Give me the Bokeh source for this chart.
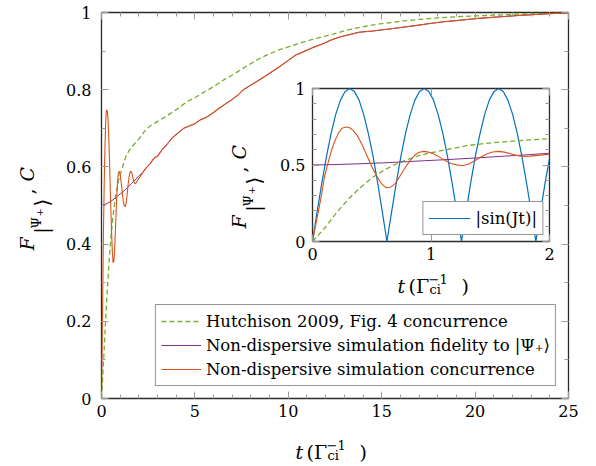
import math
from bokeh.plotting import figure
from bokeh.models import Range1d, LinearAxis, FixedTicker, Label, Legend, LegendItem
from bokeh.embed import file_html
from bokeh.resources import INLINE

FONT = "DejaVu Serif"

# ---------------- data ----------------
hutch_t = [0.00, 0.10, 0.20, 0.30, 0.40, 0.50, 0.60, 0.70, 0.80, 0.90, 1.00, 1.15, 1.30, 1.45, 1.60,
           1.80, 2.00, 2.30, 2.60, 3.00, 3.40, 3.80, 4.20, 4.60, 5.00, 5.50, 6.00, 6.50, 7.00, 7.50,
           8.00, 8.50, 9.00, 9.50, 10.00, 10.70, 11.50, 12.40, 13.20, 14.20, 15.00, 16.00, 17.00,
           18.00, 19.00, 20.00, 21.00, 22.00, 23.00, 24.00, 25.00]
hutch_c = [0.000, 0.085, 0.185, 0.275, 0.350, 0.415, 0.465, 0.505, 0.535, 0.562, 0.580, 0.603, 0.626,
           0.640, 0.651, 0.662, 0.672, 0.692, 0.706, 0.718, 0.729, 0.742, 0.755, 0.770, 0.779, 0.794,
           0.808, 0.824, 0.838, 0.853, 0.868, 0.882, 0.893, 0.903, 0.911, 0.922, 0.933, 0.944, 0.955,
           0.965, 0.971, 0.977, 0.982, 0.986, 0.989, 0.991, 0.993, 0.995, 0.997, 0.998, 0.999]

conc_t = [0.00, 0.03, 0.05, 0.08, 0.10, 0.13, 0.16, 0.19, 0.22, 0.25, 0.28, 0.31, 0.34, 0.38, 0.42,
          0.46, 0.50, 0.54, 0.58, 0.62, 0.66, 0.70, 0.74, 0.78, 0.82, 0.86, 0.90, 0.94, 0.98, 1.02,
          1.07, 1.12, 1.17, 1.22, 1.27, 1.32, 1.37, 1.42, 1.47, 1.52, 1.57, 1.62, 1.67, 1.72, 1.78,
          1.84, 1.90, 1.96, 2.02, 2.20, 2.40, 2.60, 2.80, 3.00, 3.25, 3.50, 3.80, 4.10, 4.40, 4.70,
          5.00, 5.30, 5.60, 6.00, 6.30, 6.60, 7.00, 7.30, 7.60, 8.00, 8.40, 8.80, 9.20, 9.60, 10.00,
          10.40, 10.80, 11.30, 11.80, 12.30, 12.80, 13.30, 13.80, 14.50, 15.20, 16.00, 16.80, 17.50,
          18.30, 19.00, 19.80, 20.50, 21.40, 22.20, 23.00, 24.00, 25.00]
conc_v = [0.000, 0.120, 0.200, 0.320, 0.420, 0.510, 0.595, 0.660, 0.710, 0.740, 0.748, 0.745, 0.728,
          0.690, 0.630, 0.560, 0.490, 0.430, 0.380, 0.352, 0.355, 0.380, 0.430, 0.480, 0.525, 0.562,
          0.583, 0.589, 0.584, 0.573, 0.553, 0.530, 0.510, 0.499, 0.497, 0.507, 0.528, 0.552, 0.572,
          0.585, 0.589, 0.584, 0.574, 0.563, 0.556, 0.558, 0.563, 0.568, 0.571, 0.585, 0.598, 0.608,
          0.622, 0.628, 0.645, 0.658, 0.676, 0.688, 0.700, 0.706, 0.712, 0.722, 0.728, 0.741, 0.752,
          0.762, 0.775, 0.786, 0.800, 0.812, 0.824, 0.836, 0.849, 0.862, 0.876, 0.890, 0.898, 0.909,
          0.918, 0.929, 0.937, 0.943, 0.949, 0.952, 0.956, 0.961, 0.966, 0.971, 0.976, 0.979, 0.983,
          0.986, 0.989, 0.992, 0.994, 0.997, 0.999]

fid_t = [0.00, 0.20, 0.40, 0.60, 0.80, 1.00, 1.20, 1.40, 1.60, 1.80, 2.00, 2.20, 2.40, 2.60, 2.80,
         3.00, 3.25, 3.50, 3.80, 4.10, 4.40, 4.70, 5.00, 5.30, 5.60, 6.00, 6.30, 6.60, 7.00, 7.30,
         7.60, 8.00, 8.40, 8.80, 9.20, 9.60, 10.00, 10.40, 10.80, 11.30, 11.80, 12.30, 12.80, 13.30,
         13.80, 14.50, 15.20, 16.00, 16.80, 17.50, 18.30, 19.00, 19.80, 20.50, 21.40, 22.20, 23.00,
         24.00, 25.00]
fid_v = [0.500, 0.503, 0.508, 0.514, 0.522, 0.530, 0.538, 0.547, 0.557, 0.566, 0.577, 0.585, 0.598,
         0.608, 0.622, 0.628, 0.645, 0.658, 0.676, 0.688, 0.700, 0.706, 0.712, 0.722, 0.728, 0.741,
         0.752, 0.762, 0.775, 0.786, 0.800, 0.812, 0.824, 0.836, 0.849, 0.862, 0.876, 0.890, 0.898,
         0.909, 0.918, 0.929, 0.937, 0.943, 0.949, 0.952, 0.956, 0.961, 0.966, 0.971, 0.976, 0.979,
         0.983, 0.986, 0.989, 0.992, 0.994, 0.997, 0.999]

sin_t = [0.000, 0.039, 0.079, 0.118, 0.157, 0.196, 0.236, 0.275, 0.314, 0.353, 0.393, 0.432, 0.471,
         0.511, 0.550, 0.589, 0.628, 0.668, 0.707, 0.746, 0.785, 0.825, 0.864, 0.903, 0.942, 0.982,
         1.021, 1.060, 1.100, 1.139, 1.178, 1.217, 1.257, 1.296, 1.335, 1.374, 1.414, 1.453, 1.492,
         1.532, 1.571, 1.610, 1.649, 1.689, 1.728, 1.767, 1.806, 1.846, 1.885, 1.924, 1.963, 2.003]
sin_v = [0.000, 0.195, 0.383, 0.556, 0.707, 0.831, 0.924, 0.981, 1.000, 0.981, 0.924, 0.831, 0.707,
         0.556, 0.383, 0.195, 0.000, 0.195, 0.383, 0.556, 0.707, 0.831, 0.924, 0.981, 1.000, 0.981,
         0.924, 0.831, 0.707, 0.556, 0.383, 0.195, 0.000, 0.195, 0.383, 0.556, 0.707, 0.831, 0.924,
         0.981, 1.000, 0.981, 0.924, 0.831, 0.707, 0.556, 0.383, 0.195, 0.000, 0.195, 0.383, 0.556]

main_x_ticks = [0, 5, 10, 15, 20, 25]
main_x_labels = ["0", "5", "10", "15", "20", "25"]
main_x_minor = [0, 1, 2, 3, 4, 5, 6, 7, 8, 9, 10, 11, 12, 13, 14, 15, 16, 17, 18, 19, 20, 21, 22, 23, 24, 25]
main_y_ticks = [0, 0.2, 0.4, 0.6, 0.8, 1]
main_y_labels = ["0", "0.2", "0.4", "0.6", "0.8", "1"]
main_y_minor = [0, 0.1, 0.2, 0.3, 0.4, 0.5, 0.6, 0.7, 0.8, 0.9, 1]
ins_x_ticks = [0, 1, 2]
ins_x_labels = ["0", "1", "2"]
ins_y_ticks = [0, 0.5, 1]
ins_y_labels = ["0", "0.5", "1"]
ins_y_minor = [0, 0.1, 0.2, 0.3, 0.4, 0.5, 0.6, 0.7, 0.8, 0.9, 1]

legend_labels = ["Hutchison 2009, Fig. 4 concurrence",
                 "Non-dispersive simulation fidelity to |\u03a8\u208a\u27e9",
                 "Non-dispersive simulation concurrence"]
inset_legend_label = "|sin(Jt)|"

GREEN, PURPLE, ORANGE, BLUE = "#77AC30", "#7E2F8E", "#D95319", "#0072BD"
TICK = "#9a9a9a"

# axis-title runs: (text, size px, style, offset along text, baseline shift)
XRUNS = [("t", 19, "italic", 0, 0), ("(\u0393", 19, "normal", 11, 0),
         ("\u22121", 13, "normal", 31, -7), ("ci", 13, "normal", 32, 4), (")", 19, "normal", 64, 0)]
YRUNS = [("F", 19, "italic", 0, 0), ("|", 18, "normal", 17, 15), ("\u03a8", 13, "normal", 22, 10),
         ("+", 10, "normal", 34, 13), ("\u27e9", 20, "normal", 44, 15), (",", 19, "normal", 56, 0),
         ("C", 19, "italic", 69, 0)]


def style_axis(ax, ticks, minor, labels, show):
    ax.ticker = FixedTicker(ticks=ticks, minor_ticks=minor)
    ax.axis_line_color = None
    ax.major_tick_in = 7
    ax.major_tick_out = 0
    ax.minor_tick_in = 4
    ax.minor_tick_out = 0
    ax.major_tick_line_color = TICK
    ax.minor_tick_line_color = TICK
    if show:
        ax.major_label_overrides = {float(t): l for t, l in zip(ticks, labels)}
        ax.major_label_text_font = FONT
        ax.major_label_text_font_size = "16px"
        ax.major_label_text_color = "black"
    else:
        ax.major_label_overrides = {float(t): "" for t in ticks}
        ax.major_label_text_font_size = "0px"
        ax.major_label_standoff = 0


# ---------------- main figure ----------------
p = figure(frame_width=467, frame_height=386, x_range=Range1d(0, 25), y_range=Range1d(0, 1),
           output_backend="svg", toolbar_location=None,
           min_border_left=101, min_border_right=25, min_border_top=12, min_border_bottom=58)
p.grid.visible = False
p.outline_line_color = "#2b2b2b"
p.outline_line_width = 1.3
p.background_fill_color = "white"
p.border_fill_color = "white"

style_axis(p.xaxis[0], main_x_ticks, main_x_minor, main_x_labels, True)
p.xaxis[0].major_label_standoff = 6
style_axis(p.yaxis[0], main_y_ticks, main_y_minor, main_y_labels, True)
p.yaxis[0].major_label_standoff = 10
top_ax = LinearAxis()
style_axis(top_ax, main_x_ticks, main_x_minor, main_x_labels, False)
p.add_layout(top_ax, "above")
right_ax = LinearAxis()
style_axis(right_ax, main_y_ticks, main_y_minor, main_y_labels, False)
p.add_layout(right_ax, "right")

r_g = p.line(hutch_t, hutch_c, line_color=GREEN, line_width=1.3, line_dash="5 3")
r_p = p.line(fid_t, fid_v, line_color=PURPLE, line_width=1.0)
r_o = p.line(conc_t, conc_v, line_color=ORANGE, line_width=1.1)

leg = Legend(items=[LegendItem(label=legend_labels[0], renderers=[r_g]),
                    LegendItem(label=legend_labels[1], renderers=[r_p]),
                    LegendItem(label=legend_labels[2], renderers=[r_o])],
             location="bottom_right", margin=12, padding=5, spacing=2,
             glyph_width=40, glyph_height=22, label_height=22, label_standoff=5,
             label_text_font=FONT, label_text_font_size="16.5px", label_text_color="black",
             border_line_color="#2b2b2b", border_line_width=1, background_fill_alpha=1.0)
p.add_layout(leg)

# ---------------- inset figure ----------------
ins = figure(frame_width=237, frame_height=153, x_range=Range1d(0, 2), y_range=Range1d(0, 1),
             output_backend="svg", toolbar_location=None,
             min_border_left=60, min_border_right=25, min_border_top=8, min_border_bottom=30)
ins.grid.visible = False
ins.outline_line_color = "#2b2b2b"
ins.outline_line_width = 1.3
ins.background_fill_color = "white"
ins.border_fill_color = None
ins.border_fill_alpha = 0

style_axis(ins.xaxis[0], ins_x_ticks, [], ins_x_labels, True)
ins.xaxis[0].major_label_standoff = 6
style_axis(ins.yaxis[0], ins_y_ticks, ins_y_minor, ins_y_labels, True)
ins.yaxis[0].major_label_standoff = 7
itop = LinearAxis()
style_axis(itop, ins_x_ticks, [], ins_x_labels, False)
ins.add_layout(itop, "above")
iright = LinearAxis()
style_axis(iright, ins_y_ticks, ins_y_minor, ins_y_labels, False)
ins.add_layout(iright, "right")

r_b = ins.line(sin_t, sin_v, line_color=BLUE, line_width=1.2)
ins.line(hutch_t, hutch_c, line_color=GREEN, line_width=1.3, line_dash="5 3")
ins.line(fid_t, fid_v, line_color=PURPLE, line_width=1.0)
ins.line(conc_t, conc_v, line_color=ORANGE, line_width=1.1)

ileg = Legend(items=[LegendItem(label=inset_legend_label, renderers=[r_b])],
              location="bottom_right", margin=6, padding=5, spacing=0,
              glyph_width=42, glyph_height=22, label_height=22, label_standoff=5,
              label_text_font=FONT, label_text_font_size="16.5px", label_text_color="black",
              border_line_color="#2b2b2b", border_line_width=1, background_fill_alpha=1.0)
ins.add_layout(ileg)
ins.styles = {"position": "absolute", "left": "252px", "top": "80px"}

# ---------------- typography overlay (axis titles with sub/superscripts) ----------------
OW, OH = 594, 464
ov = figure(width=OW, height=OH, x_range=Range1d(0, OW), y_range=Range1d(OH, 0),
            output_backend="svg", toolbar_location=None, x_axis_location=None, y_axis_location=None,
            min_border=0, min_border_left=0, min_border_right=0, min_border_top=0, min_border_bottom=0)
ov.grid.visible = False
ov.outline_line_color = None
ov.background_fill_color = None
ov.border_fill_color = None
ov.styles = {"position": "absolute", "left": "0px", "top": "0px", "pointer-events": "none"}


def add_runs(plot, runs, anchor, angle):
    ax0, ay0 = anchor
    for text, size, style, along, across in runs:
        if angle == 0:
            px, py = ax0 + along, ay0 + across
        else:
            px, py = ax0 + across, ay0 - along
        plot.add_layout(Label(x=px, y=py, text=text, text_font=FONT, text_font_size=f"{size}px",
                              text_font_style=style, text_align="left", text_baseline="alphabetic",
                              angle=angle, text_color="black"))


add_runs(ov, XRUNS, (295, 451), 0)
add_runs(ov, YRUNS, (26, 250), math.pi / 2)
add_runs(ov, XRUNS, (397, 285), 0)
add_runs(ov, YRUNS, (238, 228), math.pi / 2)

open("out.html", "w").write(file_html([p, ins, ov], INLINE))
